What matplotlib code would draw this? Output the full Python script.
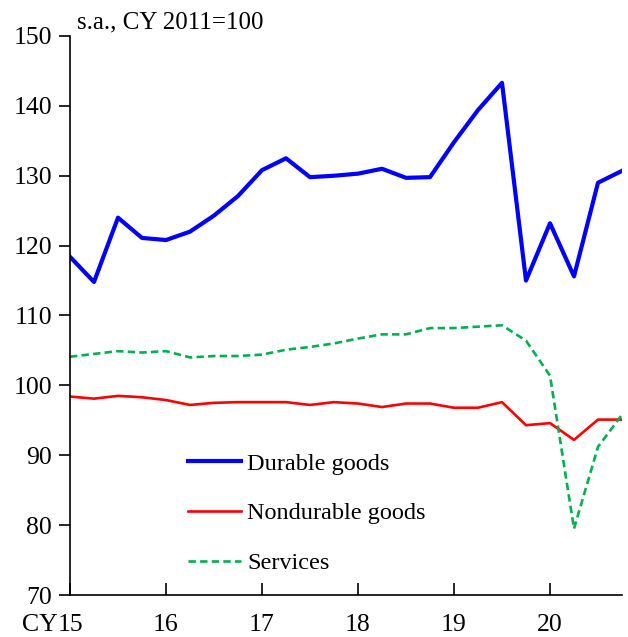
import matplotlib
matplotlib.use("Agg")
import matplotlib.pyplot as plt
import matplotlib.transforms as mtransforms

plt.rcParams['font.family'] = ['Liberation Serif', 'DejaVu Serif']

quarters = list(range(24))  # 2015Q1 .. 2020Q4
durable = [118.4, 114.8, 124.0, 121.1, 120.8, 122.0, 124.3, 127.1, 130.8, 132.5,
           129.8, 130.0, 130.3, 131.0, 129.7, 129.8, 134.8, 139.4, 143.3, 115.0,
           123.2, 115.6, 129.0, 130.7]
nondurable = [98.4, 98.1, 98.5, 98.3, 97.9, 97.2, 97.5, 97.6, 97.6, 97.6,
              97.2, 97.6, 97.4, 96.9, 97.4, 97.4, 96.8, 96.8, 97.6, 94.3,
              94.6, 92.2, 95.1, 95.1]
services = [104.1, 104.5, 104.9, 104.7, 104.9, 104.0, 104.2, 104.2, 104.4, 105.1,
            105.5, 106.0, 106.7, 107.3, 107.3, 108.2, 108.2, 108.4, 108.6, 106.4,
            101.4, 79.5, 91.2, 95.8]
year_ticks = [0, 4, 8, 12, 16, 20]
year_labels = ['15', '16', '17', '18', '19', '20']
yticks = [70, 80, 90, 100, 110, 120, 130, 140, 150]

W, H = 628, 637
TFS = 18.5
XPAD = 14
fig = plt.figure(figsize=(W/100, H/100), dpi=100)
ax = fig.add_axes([70/W, 1-595/H, (622-70)/W, (595-36)/H])

ax.plot(quarters, durable, color='#0000ff', lw=3.0, label='Durable goods')
ax.plot(quarters, nondurable, color='#ff0000', lw=1.9, label='Nondurable goods')
ax.plot(quarters, services, color='#00b050', lw=1.9, ls=(0, (2.8, 1.6)), label='Services')

ax.set_xlim(0, 23)
ax.set_ylim(70, 150)
ax.set_yticks(yticks)
ax.set_xticks(year_ticks)
ax.set_xticklabels(year_labels)
for s in ['top', 'right']:
    ax.spines[s].set_visible(False)
for s in ['left', 'bottom']:
    ax.spines[s].set_linewidth(1.2)
ax.tick_params(axis='y', direction='out', length=8, width=1.2, labelsize=TFS, pad=5)
ax.tick_params(axis='x', direction='in', length=9, width=1.2, labelsize=TFS, pad=XPAD)

trans = mtransforms.blended_transform_factory(ax.transData, ax.transAxes)
ax.annotate('CY', xy=(0, 0), xycoords=trans, xytext=(-TFS*0.5, -XPAD),
            textcoords='offset points', ha='right', va='top', fontsize=TFS)

fig.text(77/W, 1-28/H, 's.a., CY 2011=100', ha='left', va='baseline', fontsize=17.9)

leg = ax.legend(loc='upper left', bbox_to_anchor=(108/552, 1-(443-36)/559), frameon=False,
                fontsize=17.5, handlelength=2.2, handletextpad=0.25, labelspacing=1.14,
                borderaxespad=0, borderpad=0.4)

fig.savefig('out.png', dpi=100)
